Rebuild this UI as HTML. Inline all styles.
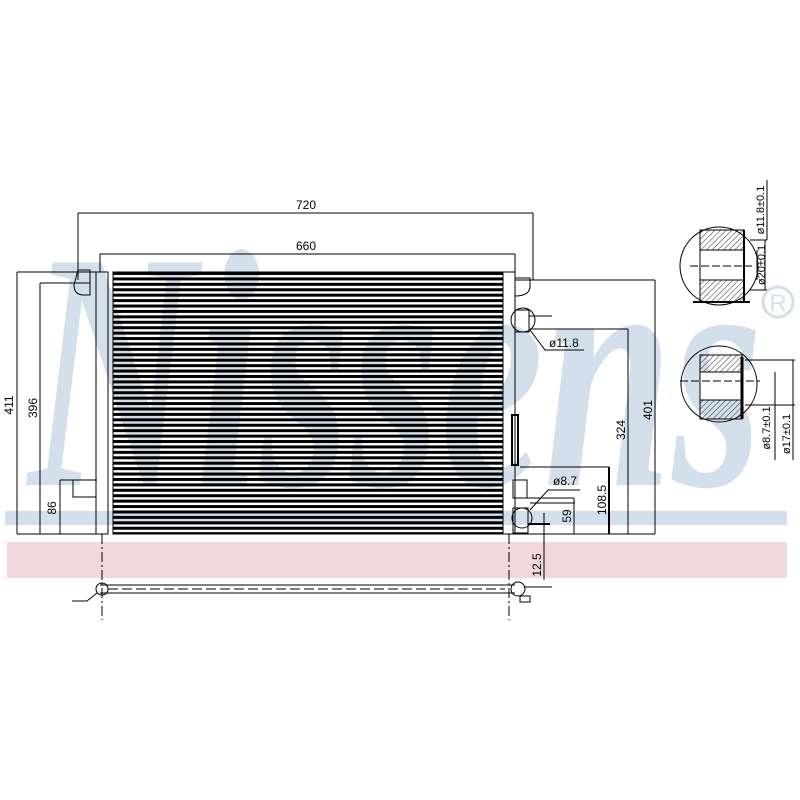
<!DOCTYPE html>
<html><head><meta charset="utf-8"><style>html,body{margin:0;padding:0;background:#fff}svg{display:block}</style></head>
<body>
<svg width="800" height="800" viewBox="0 0 800 800" xmlns="http://www.w3.org/2000/svg" font-family="Liberation Sans, sans-serif">
<defs>
<pattern id="tubes" x="0" y="272" width="10" height="5.42" patternUnits="userSpaceOnUse">
<rect x="0" y="0" width="10" height="3" fill="#000"/>
</pattern>
<pattern id="hatch" width="4" height="4" patternUnits="userSpaceOnUse" patternTransform="rotate(45)">
<line x1="0" y1="0" x2="0" y2="4" stroke="#000" stroke-width="0.8"/>
</pattern>
</defs>
<!-- watermark -->
<text x="28" y="485" font-family="Liberation Serif, serif" font-style="italic" font-weight="bold" font-size="340" fill="#d3e0eb" textLength="735" lengthAdjust="spacingAndGlyphs">Nissens</text>
<circle cx="778" cy="302" r="15" fill="none" stroke="#d3e0eb" stroke-width="3"/>
<text x="778" y="311" text-anchor="middle" font-size="24" fill="#d3e0eb">R</text>
<rect x="5" y="511" width="782" height="14" fill="#d3e0eb"/>
<rect x="7" y="542" width="780" height="36" fill="#f2d7de"/>

<g stroke="#000" fill="none" stroke-width="1">
<line x1="78" y1="213" x2="533" y2="213"/>
<line x1="78" y1="213" x2="78" y2="280"/>
<line x1="533" y1="213" x2="533" y2="280"/>
<line x1="100" y1="254" x2="515" y2="254"/>
<line x1="100" y1="254" x2="100" y2="272"/>
<line x1="515" y1="254" x2="515" y2="272"/>
<line x1="17" y1="272" x2="100" y2="272"/>
<line x1="17" y1="534" x2="100" y2="534"/>
<line x1="17" y1="272" x2="17" y2="534"/>
<line x1="40" y1="283" x2="90" y2="283"/>
<line x1="40" y1="283" x2="40" y2="534"/>
<line x1="60" y1="480" x2="97" y2="480"/>
<line x1="60" y1="480" x2="60" y2="534"/>
<rect x="96" y="272" width="12" height="262"/>
<rect x="503" y="272" width="12" height="262"/>
<line x1="102" y1="534" x2="102" y2="620" stroke-dasharray="10,3,2,3"/>
<line x1="509" y1="534" x2="509" y2="620" stroke-dasharray="10,3,2,3"/>
<rect x="113" y="272" width="390" height="262"/>
<line x1="515" y1="280" x2="655" y2="280"/>
<line x1="655" y1="280" x2="655" y2="534"/>
<line x1="530" y1="329" x2="628" y2="329"/>
<line x1="628" y1="329" x2="628" y2="534"/>
<line x1="520" y1="467" x2="609" y2="467"/>
<line x1="609" y1="467" x2="609" y2="534" stroke-width="2"/>
<line x1="525" y1="498" x2="574" y2="498"/>
<line x1="574" y1="498" x2="574" y2="534"/>
<line x1="515" y1="534" x2="655" y2="534"/>
<line x1="544" y1="513" x2="544" y2="580"/>
<line x1="530" y1="503" x2="575" y2="503"/>
<polyline points="530,330 545,350 584,350"/>
<polyline points="530,510 548,490 580,490"/>
<path d="M515,278 h15 v8 q0,10 -15,10z"/>
<rect x="515" y="310" width="14" height="22"/>
<circle cx="523" cy="320" r="12"/>
<line x1="529" y1="316" x2="552" y2="316"/>
<rect x="512" y="415" width="6" height="50" stroke-width="2"/>
<rect x="513" y="480" width="14" height="18"/>
<rect x="513" y="508" width="15" height="25"/>
<circle cx="522" cy="518" r="10"/>
<line x1="528" y1="524" x2="550" y2="524" stroke-width="2"/>
<path d="M78,270 h12 v25 h-6 q-10,0 -10,-10z"/>
<rect x="73" y="480" width="23" height="17"/>
<line x1="100" y1="585" x2="515" y2="585"/>
<line x1="100" y1="593" x2="515" y2="593"/>
<line x1="108" y1="589" x2="505" y2="589" stroke-dasharray="10,4"/>
<circle cx="102" cy="589" r="6"/>
<circle cx="518" cy="589" r="7"/>
<line x1="524" y1="587" x2="552" y2="587"/>
<path d="M520,596 h10 v6 h-10z"/>
<path d="M72,601 h15 l10,-8"/>
<circle cx="719" cy="266" r="39"/>
<rect x="700" y="230" width="44" height="72" fill="url(#hatch)"/>
<rect x="700" y="250" width="44" height="30" fill="#fff"/>
<line x1="700" y1="250" x2="744" y2="250"/>
<line x1="700" y1="280" x2="744" y2="280"/>
<line x1="744" y1="230" x2="744" y2="302" stroke-width="2"/>
<line x1="690" y1="266" x2="752" y2="266" stroke-dasharray="8,3"/>
<line x1="693" y1="302" x2="750" y2="302" stroke-width="2"/>
<line x1="750" y1="240" x2="767" y2="240"/>
<line x1="750" y1="290" x2="767" y2="290"/>
<line x1="765" y1="240" x2="765" y2="290"/>
<line x1="767" y1="180" x2="767" y2="240"/>
<line x1="757" y1="250" x2="757" y2="280"/>
<circle cx="719" cy="384" r="38"/>
<rect x="700" y="355" width="42" height="64" fill="url(#hatch)"/>
<rect x="700" y="372" width="42" height="28" fill="#fff"/>
<line x1="700" y1="372" x2="742" y2="372"/>
<line x1="700" y1="400" x2="742" y2="400"/>
<line x1="742" y1="357" x2="742" y2="419" stroke-width="3"/>
<line x1="680" y1="381" x2="760" y2="381" stroke-dasharray="8,3"/>
<line x1="745" y1="360" x2="795" y2="360"/>
<line x1="745" y1="405" x2="795" y2="405"/>
<line x1="793" y1="360" x2="793" y2="460"/>
<line x1="775" y1="372" x2="775" y2="460"/>
</g>
<rect x="113" y="272" width="390" height="262" fill="url(#tubes)"/>
<g font-size="12" fill="#000">
<text x="306" y="209" text-anchor="middle">720</text>
<text x="306" y="250" text-anchor="middle">660</text>
<text transform="translate(13,405) rotate(-90)" text-anchor="middle">411</text>
<text transform="translate(37,408) rotate(-90)" text-anchor="middle">396</text>
<text transform="translate(56,508) rotate(-90)" text-anchor="middle">86</text>
<text x="549" y="347">ø11.8</text>
<text x="553" y="485">ø8.7</text>
<text transform="translate(652,410) rotate(-90)" text-anchor="middle">401</text>
<text transform="translate(625,430) rotate(-90)" text-anchor="middle">324</text>
<text transform="translate(606,500) rotate(-90)" text-anchor="middle">108.5</text>
<text transform="translate(571,516) rotate(-90)" text-anchor="middle">59</text>
<text transform="translate(541,565) rotate(-90)" text-anchor="middle">12.5</text>
<text transform="translate(764,210) rotate(-90)" text-anchor="middle" font-size="11">ø11.8±0.1</text>
<text transform="translate(765,265) rotate(-90)" text-anchor="middle" font-size="11">ø20±0.1</text>
<text transform="translate(770,428) rotate(-90)" text-anchor="middle" font-size="11">ø8.7±0.1</text>
<text transform="translate(790,434) rotate(-90)" text-anchor="middle" font-size="11">ø17±0.1</text>
</g>
</svg>
</body></html>
